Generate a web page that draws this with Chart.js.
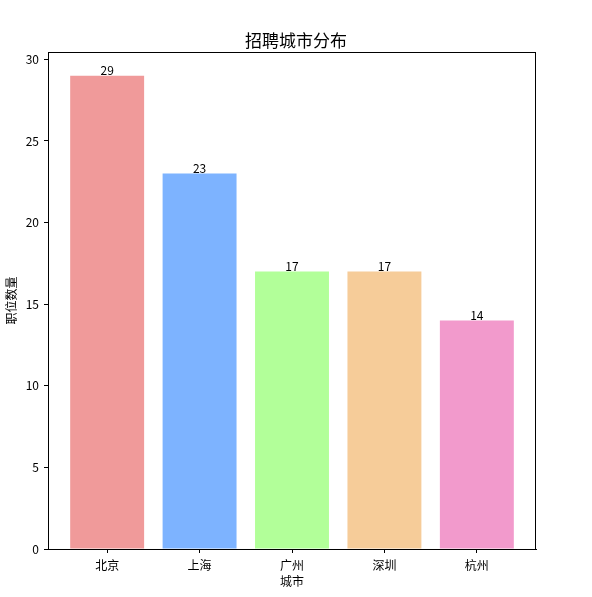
<!DOCTYPE html>
<html>
<head>
<meta charset="utf-8">
<script src="https://cdn.jsdelivr.net/npm/chart.js@4.4.0/dist/chart.umd.min.js"></script>
<style>
  html, body { margin: 0; padding: 0; background: #fff; }
  #wrap { width: 592px; height: 597px; }
</style>
</head>
<body>
<div id="wrap"><canvas id="barChart"></canvas></div>
<script>
// chart data
const cities = ["北京", "上海", "广州", "深圳", "杭州"];
const jobCounts = [29, 23, 17, 17, 14];
const barColors = ["#F09A9A", "#7DB3FF", "#B2FF99", "#F6CC99", "#F29ACC"];
const yTicks = [0, 5, 10, 15, 20, 25, 30];

const FONT = "'Noto Sans CJK SC', 'DejaVu Sans', sans-serif";

// closed box around the plot, like matplotlib
const frame = {
  id: "frame",
  afterDraw(chart) {
    const { ctx, chartArea: a } = chart;
    ctx.save();
    ctx.strokeStyle = "#000";
    ctx.lineWidth = 1;
    ctx.strokeRect(a.left + 0.5, a.top + 0.5, a.right - a.left - 1, a.bottom - a.top);
    ctx.restore();
  },
};

// value labels over each bar
const barLabels = {
  id: "barLabels",
  afterDatasetsDraw(chart) {
    const { ctx } = chart;
    const meta = chart.getDatasetMeta(0);
    ctx.save();
    ctx.font = "12px " + FONT;
    ctx.fillStyle = "#000";
    ctx.textAlign = "center";
    ctx.textBaseline = "bottom";
    meta.data.forEach((bar, i) => {
      ctx.fillText(String(jobCounts[i]), bar.x, bar.y + 1);
    });
    ctx.restore();
  },
};

const ctx = document.getElementById("barChart").getContext("2d");
new Chart(ctx, {
  type: "bar",
  data: {
    datasets: [
      {
        data: jobCounts.map((v, i) => ({ x: i, y: v })),
        backgroundColor: barColors,
        barPercentage: 0.8,
        categoryPercentage: 1,
      },
    ],
  },
  options: {
    responsive: true,
    maintainAspectRatio: false,
    animation: false,
    layout: { padding: 0 },
    plugins: {
      legend: { display: false },
      tooltip: { enabled: false },
      title: {
        display: true,
        text: "招聘城市分布",
        color: "#000",
        font: { family: FONT, size: 17, weight: "normal" },
        padding: { top: 30, bottom: 1.6 },
      },
    },
    scales: {
      x: {
        type: "linear",
        min: -0.64,
        max: 4.64,
        offset: false,
        grid: { display: true, offset: false, drawOnChartArea: false, color: "#000", tickLength: 4 },
        border: { display: true, color: "#000" },
        afterBuildTicks(scale) {
          scale.ticks = cities.map((c, i) => ({ value: i }));
        },
        ticks: {
          color: "#000",
          padding: 5,
          font: { family: FONT, size: 12 },
          callback: (v) => cities[v],
          maxRotation: 0,
        },
        title: {
          display: true,
          text: "城市",
          color: "#000",
          font: { family: FONT, size: 12 },
          padding: { top: 0, bottom: 8 },
        },
        afterFit(scale) {
          scale.height = 48;
        },
      },
      y: {
        min: 0,
        max: 30.45,
        grid: { display: true, drawOnChartArea: false, color: "#000", tickLength: 4 },
        border: { display: true, color: "#000" },
        afterBuildTicks(scale) {
          scale.ticks = yTicks.map((v) => ({ value: v }));
        },
        ticks: {
          color: "#000",
          padding: 5,
          font: { family: FONT, size: 12 },
        },
        title: {
          display: true,
          text: "职位数量",
          color: "#000",
          font: { family: FONT, size: 12 },
          padding: { top: 4, bottom: 0 },
        },
        afterFit(scale) {
          scale.width = 48;
        },
      },
      // empty spacer on the right so the title centres on the whole figure
      yRight: {
        position: "right",
        display: true,
        grid: { display: false },
        border: { display: false },
        ticks: { display: false },
        afterFit(scale) {
          scale.width = 56;
        },
      },
    },
  },
  plugins: [frame, barLabels],
});
</script>
</body>
</html>
